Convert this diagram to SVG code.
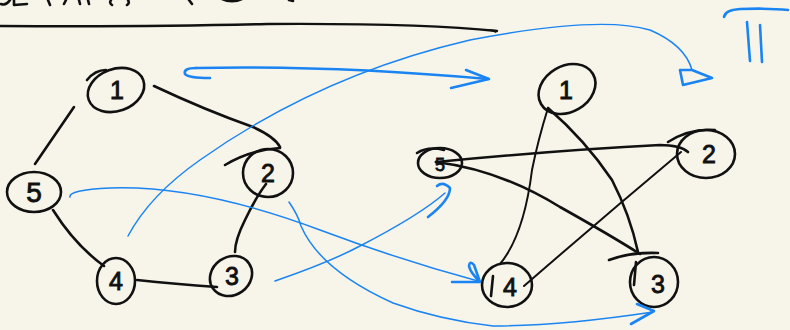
<svg xmlns="http://www.w3.org/2000/svg" width="790" height="330" viewBox="0 0 790 330">
  <defs>
    <style>
      .bg { fill: #f7f5ea; }
      .ink { fill: none; stroke: #111; stroke-width: 2.6; stroke-linecap: round; stroke-linejoin: round; }
      .ink-thin { fill: none; stroke: #111; stroke-width: 2; stroke-linecap: round; }
      .blue { fill: none; stroke: #1a84f2; stroke-width: 2.6; stroke-linecap: round; stroke-linejoin: round; }
      .blue-thin { fill: none; stroke: #1a84f2; stroke-width: 1.5; stroke-linecap: round; stroke-linejoin: round; }
      .node { fill: none; stroke: #111; stroke-width: 2.6; }
      .lbl { font-family: "Liberation Sans", Arial, sans-serif; font-size: 25px; fill: #111; stroke: #111; stroke-width: 0.9; text-anchor: middle; }
      .lbl-s { font-family: "Liberation Sans", Arial, sans-serif; font-size: 18px; fill: #111; stroke: #111; stroke-width: 0.8; text-anchor: middle; }
    </style>
  </defs>

  <rect class="bg" x="0" y="0" width="790" height="330"/>

  <!-- heading strokes cut at the top edge, and the underline -->
  <g id="heading">
    <path class="ink" d="M1,4 Q6,6 10,0"/>
    <path class="ink" d="M14,0 L14,5 L27,4"/>
    <path class="ink" d="M48,0 L50,5"/>
    <path class="ink" d="M66,0 L64,4"/>
    <path class="ink" d="M79,0 L80,4"/>
    <path class="ink" d="M88,0 L89,4"/>
    <path class="ink" d="M111,0 Q109,3 112,5"/>
    <path class="ink" d="M128,0 Q130,3 127,5"/>
    <path class="ink" d="M189,0 L192,4"/>
    <path d="M221,0 Q232,5 243,0 Z" fill="#111"/>
    <path class="ink" d="M289,0 L293,1"/>
    <path d="M0,26 Q150,27 267,24 Q420,23 497,31" fill="none" stroke="#111" stroke-width="2.4" stroke-linecap="round"/>
    <path d="M486,29 L497,30 L496,33 Z" fill="#111"/>
  </g>

  <!-- left graph nodes -->
  <g id="L1">
    <ellipse class="node" cx="116" cy="90" rx="29" ry="21" transform="rotate(-20 116 90)"/>
    <path class="ink" d="M87,80 Q95,70 106,70"/>
    <text class="lbl" x="117" y="99">1</text>
  </g>
  <g id="L2">
    <ellipse class="node" cx="268" cy="173" rx="25" ry="24"/>
    <path class="ink" d="M225,165 Q250,150 280,148"/>
    <text class="lbl" x="268" y="182">2</text>
  </g>
  <g id="L3">
    <ellipse class="node" cx="231" cy="276" rx="22" ry="19" transform="rotate(-35 231 276)"/>
    <text class="lbl" x="232" y="285">3</text>
  </g>
  <g id="L4">
    <ellipse class="node" cx="116" cy="281" rx="19" ry="23"/>
    <text class="lbl" x="116" y="290">4</text>
  </g>
  <g id="L5">
    <ellipse class="node" cx="34" cy="192" rx="27" ry="20"/>
    <text class="lbl" x="34" y="202" style="font-size:28px">5</text>
  </g>

  <!-- right graph nodes -->
  <g id="R1">
    <ellipse class="node" cx="567" cy="89" rx="30" ry="23" transform="rotate(-30 567 89)"/>
    <text class="lbl" x="566" y="99">1</text>
  </g>
  <g id="R2">
    <ellipse class="node" cx="706" cy="154" rx="29" ry="24"/>
    <path class="ink" d="M668,142 Q690,128 715,130"/>
    <text class="lbl" x="709" y="163">2</text>
  </g>
  <g id="R3">
    <ellipse class="node" cx="654" cy="282" rx="24" ry="25"/>
    <path class="ink" d="M609,260 Q630,252 658,253"/>
    <path class="ink" d="M636,262 L634,285"/>
    <text class="lbl" x="658" y="293">3</text>
  </g>
  <g id="R4">
    <ellipse class="node" cx="507" cy="285" rx="25" ry="22"/>
    <path class="ink" d="M493,276 L491,296"/>
    <text class="lbl" x="510" y="296">4</text>
  </g>
  <g id="R5">
    <ellipse class="node" cx="440" cy="163" rx="22" ry="15"/>
    <path class="ink" d="M417,153 Q428,146 444,150"/>
    <text class="lbl-s" x="440" y="171">5</text>
  </g>

  <!-- connectors -->
  <g id="connectors">
    <!-- left cycle -->
    <path class="ink" d="M35,164 L74,107"/>
    <path class="ink" d="M154,86 Q205,110 253,127 Q275,137 280,147"/>
    <path class="ink" d="M266,184 Q256,197 245,220 Q235,240 235,252"/>
    <path class="ink" d="M217,287 Q175,284 137,280"/>
    <path class="ink" d="M104,266 Q75,245 53,210"/>

    <!-- right star -->
    <path class="ink-thin" d="M548,108 Q538,140 532,170 Q524,235 500,264"/>
    <path class="ink" d="M548,108 Q585,140 612,180 Q630,215 638,252"/>
    <path class="ink" d="M436,162 Q560,150 660,145 Q680,145 688,152"/>
    <path class="ink" d="M436,162 Q500,170 560,207 Q610,235 640,254"/>
    <path class="ink-thin" d="M524,286 Q600,220 681,152"/>

    <!-- blue arrows -->
    <path class="blue" d="M196,68 Q330,65 488,79"/>
    <path class="blue" d="M196,68 Q183,68 185,74 Q188,78 210,78"/>
    <path class="blue" d="M466,70 L489,79 L451,88"/>

    <path class="blue-thin" d="M128,236 Q150,195 200,160 Q320,75 470,40 Q600,15 650,30 Q685,45 692,70"/>
    <path class="blue" d="M680,70 L683,85 L712,78 L692,70 Z"/>

    <path class="blue-thin" d="M70,197 Q68,190 110,188 Q200,185 320,230 Q400,260 478,281"/>
    <path class="blue" d="M452,282 L480,282 Q470,272 469,266 Q470,260 474,265 L480,282"/>

    <path class="blue-thin" d="M289,202 Q298,215 301,226 Q320,270 393,303 Q440,320 493,326 Q560,326 653,312"/>
    <path class="blue" d="M637,304 L654,311 L631,324"/>

    <path class="blue-thin" d="M275,281 Q330,262 360,246 Q420,215 445,193"/>
    <path class="blue" d="M437,186 Q443,181 450,188 Q450,200 428,217"/>

    <!-- roman numeral mark -->
    <path class="blue" d="M724,17 Q725,10 740,9 Q770,8 788,10"/>
    <path class="blue" d="M747,22 L750,61"/>
    <path class="blue" d="M760,25 L762,62"/>
  </g>
</svg>
